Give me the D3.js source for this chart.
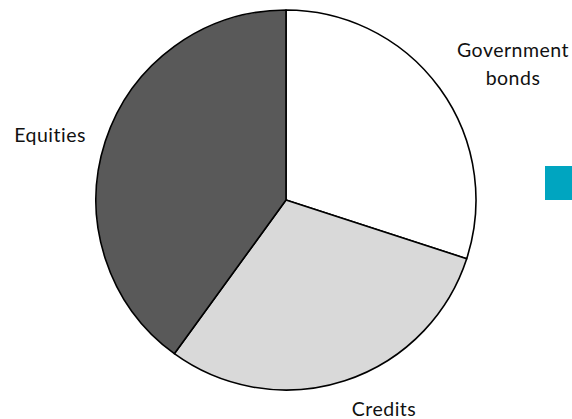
<!DOCTYPE html>
<html>
<head>
<meta charset="utf-8">
<script src="https://cdn.jsdelivr.net/npm/d3@7"></script>
<style>
  html, body { margin: 0; padding: 0; background: #fff; }
  svg { display: block; }
  text { font-family: Lato, "Liberation Sans", sans-serif; fill: #111; }
</style>
</head>
<body>
<svg id="chart" width="572" height="419"></svg>
<script>
// Portfolio allocation (%), drawn clockwise from 12 o'clock
const categories = ["Government bonds", "Credits", "Equities"];
const values = [30, 30, 40];
const labelLines = [["Government", "bonds"], ["Credits"], ["Equities"]];
const sliceColors = ["#ffffff", "#d9d9d9", "#595959"];
const legendColor = "#00a5c0";

const width = 572, height = 419;
const cx = 286, cy = 200, radius = 190;
// label anchors relative to the pie centre (text centre, first baseline)
const labelOffsets = [[227, -143], [98, 216], [-236, -58]];
const lineHeight = 28;

const svg = d3.select("#chart");
const g = svg.append("g").attr("transform", `translate(${cx},${cy})`);

const pie = d3.pie().sort(null).value(d => d.value);
const arcs = pie(categories.map((c, i) => ({ name: c, value: values[i] })));
const arc = d3.arc().innerRadius(0).outerRadius(radius);

g.selectAll("path.slice")
  .data(arcs)
  .join("path")
  .attr("class", "slice")
  .attr("d", arc)
  .attr("fill", (d, i) => sliceColors[i])
  .attr("stroke", "#000")
  .attr("stroke-width", 1.6)
  .attr("stroke-linejoin", "round");

const labels = g.selectAll("text.label")
  .data(arcs)
  .join("text")
  .attr("class", "label")
  .attr("text-anchor", "middle")
  .attr("font-size", 19.5)
  .attr("letter-spacing", 0.5)
  .attr("x", (d, i) => labelOffsets[i][0])
  .attr("y", (d, i) => labelOffsets[i][1]);

labels.each(function (d, i) {
  d3.select(this).selectAll("tspan")
    .data(labelLines[i])
    .join("tspan")
    .attr("x", labelOffsets[i][0])
    .attr("dy", (t, j) => j === 0 ? 0 : lineHeight)
    .text(t => t);
});

// single legend swatch at the right edge
svg.append("rect")
  .attr("x", 545)
  .attr("y", 166)
  .attr("width", 34)
  .attr("height", 34)
  .attr("fill", legendColor);
</script>
</body>
</html>
